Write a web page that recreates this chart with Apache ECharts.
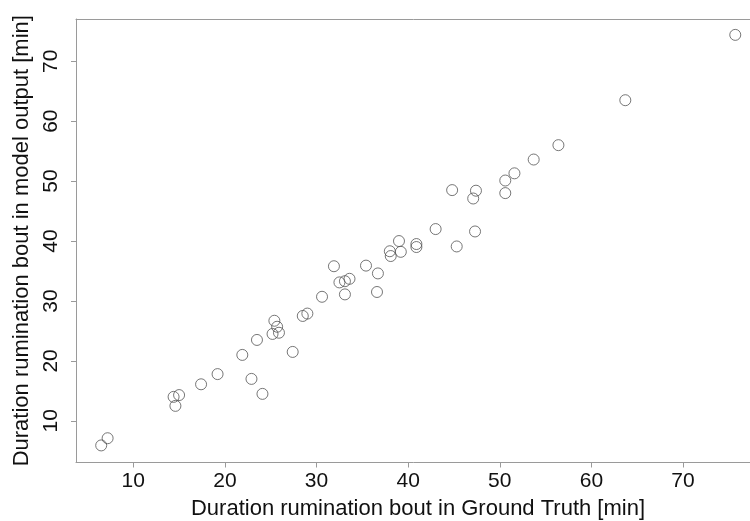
<!DOCTYPE html>
<html>
<head>
<meta charset="utf-8">
<script src="https://cdn.jsdelivr.net/npm/echarts@6/dist/echarts.min.js"></script>
<style>
  html, body { margin: 0; padding: 0; background: #fff; }
  #chart { width: 750px; height: 521px; }
</style>
</head>
<body>
<div id="chart"></div>
<script>
// ground truth duration (x) and model output duration (y), minutes
const groundTruth = [
  6.5, 7.2, 14.4, 15.0, 14.6, 17.4, 19.2, 21.9, 22.9, 24.1,
  23.5, 25.4, 25.7, 25.2, 25.9, 27.4, 28.5, 29.0, 30.6, 31.9,
  32.5, 33.1, 33.6, 33.1, 35.4, 36.7, 36.6, 38.0, 38.1, 39.0,
  39.2, 40.9, 40.9, 43.0, 45.3, 47.3, 44.8, 47.4, 47.1, 50.6,
  50.6, 51.6, 53.7, 56.4, 63.7, 75.7
]
const modelOutput = [
  5.9, 7.1, 14.0, 14.3, 12.5, 16.1, 17.8, 21.0, 17.0, 14.5,
  23.5, 26.7, 25.7, 24.5, 24.7, 21.5, 27.5, 27.9, 30.7, 35.8,
  33.1, 33.3, 33.7, 31.1, 35.9, 34.6, 31.5, 38.3, 37.5, 40.0,
  38.2, 39.5, 39.0, 42.0, 39.1, 41.6, 48.5, 48.4, 47.1, 48.0,
  50.1, 51.3, 53.6, 56.0, 63.5, 74.4
]
const xTicks = [10, 20, 30, 40, 50, 60, 70]
const yTicks = [10, 20, 30, 40, 50, 60, 70]

let points = groundTruth.map((x, i) => [x, modelOutput[i]])

let chart = echarts.init(document.getElementById('chart'), null, { renderer: 'canvas' })

const font = 'Liberation Sans, Arial, sans-serif'
const boxColor = '#9a9a9a'
const xMin = 3.75, xMax = 78.4

chart.setOption({
  animation: false,
  backgroundColor: '#fff',
  grid: {
    left: 76, right: -10, top: 19, bottom: 58.5,
    outerBoundsMode: 'none',
    show: false
  },
  xAxis: [{
    type: 'value',
    min: xMin, max: xMax,
    name: 'Duration rumination bout in Ground Truth [min]',
    nameLocation: 'middle',
    nameGap: 35,
    nameTextStyle: { fontFamily: font, fontSize: 22, color: '#111' },
    axisLine: { show: true, onZero: false, lineStyle: { color: boxColor, width: 1 } },
    axisTick: { show: true, length: 5, inside: false, customValues: xTicks, lineStyle: { color: boxColor } },
    axisLabel: { customValues: xTicks, margin: 8, fontFamily: font, fontSize: 21, color: '#111' },
    splitLine: { show: false }
  }, {
    // top edge of the box
    type: 'value',
    position: 'top',
    min: xMin, max: xMax,
    axisLine: { show: true, onZero: false, lineStyle: { color: boxColor, width: 1 } },
    axisTick: { show: false },
    axisLabel: { show: false },
    splitLine: { show: false }
  }],
  yAxis: {
    type: 'value',
    min: 3.05, max: 77.05,
    name: 'Duration rumination bout in model output [min]',
    nameLocation: 'middle',
    nameGap: 41,
    nameRotate: 90,
    nameTextStyle: { fontFamily: font, fontSize: 22, color: '#111' },
    axisLine: { show: true, onZero: false, lineStyle: { color: boxColor, width: 1 } },
    axisTick: { show: true, length: 5, inside: false, customValues: yTicks, lineStyle: { color: boxColor } },
    axisLabel: { customValues: yTicks, rotate: 90, margin: 14, fontFamily: font, fontSize: 21, color: '#111' },
    splitLine: { show: false }
  },
  series: [{
    type: 'scatter',
    data: points,
    symbol: 'circle',
    symbolSize: 11,
    itemStyle: { color: 'transparent', borderColor: '#555', borderWidth: 1 }
  }]
})
</script>
</body>
</html>
